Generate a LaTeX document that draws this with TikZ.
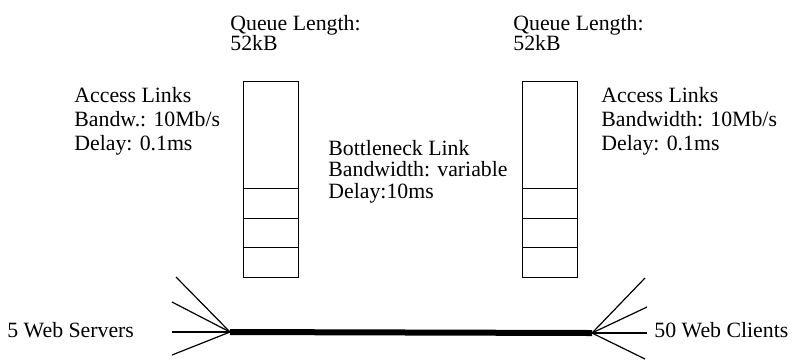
\documentclass[tikz,border=0pt]{standalone}
\usepackage{fontspec}
\setmainfont{Liberation Serif}
\usetikzlibrary{positioning}
\tikzset{
  lbl/.style={font=\fontsize{10.9}{12}\selectfont, align=left, inner sep=0pt, anchor=base west},
  queue/.style={draw, line width=0.5pt, minimum width=27.5pt, minimum height=98pt, inner sep=0pt, anchor=north west},
  link/.style={line width=0.6pt},
  bottleneck/.style={line width=3pt},
}

\begin{document}
\begin{tikzpicture}[x=0.5pt, y=-0.5pt]
  \useasboundingbox (0,0) rectangle (795,361);
  % router queues
  \node[queue] (qleft) at (243,81) {};
  \node[queue] (qright) at (522,81) {};
  \foreach \q in {qleft,qright}
    \foreach \yy in {188,218,247}
      \draw[line width=0.5pt] (\q.west |- 0,\yy) -- (\q.east |- 0,\yy);
  \node[lbl, font=\fontsize{10.9}{10}\selectfont] (qlenleft) at (230,50) {Queue Length:\\52kB};
  \node[lbl, font=\fontsize{10.9}{10}\selectfont] (qlenright) at (513,50) {Queue Length:\\ 52kB};
  % bottleneck link
  \coordinate (srvhub) at (230,332);
  \coordinate (clihub) at (592,333);
  \draw[bottleneck] (srvhub) -- (clihub);
  % access links
  \foreach \n/\p in {a/{176,277},b/{172,302},c/{172,332},d/{172,355}}
    \coordinate (srv\n) at (\p);
  \foreach \n/\p in {a/{645,278},b/{647,307},c/{647,333},d/{645,359}}
    \coordinate (cli\n) at (\p);
  \foreach \n in {a,b,c,d} {
    \draw[link] (srv\n) -- (srvhub);
    \draw[link] (clihub) -- (cli\n);
  }
  % labels
  \node[lbl] (accleft) at (74,150) {Access Links\\Bandw.: 10Mb/s\\Delay: 0.1ms};
  \node[lbl] (accright) at (601,150) {Access Links\\Bandwidth: 10Mb/s\\Delay: 0.1ms};
  \node[lbl, font=\fontsize{10.9}{10.75}\selectfont] (bneck) at (328,198) {Bottleneck Link\\Bandwidth: variable\\Delay:10ms};
  \node[lbl] (servers) at (7,337) {5 Web Servers};
  \node[lbl] (clients) at (654,337) {50 Web Clients};
\end{tikzpicture}
\end{document}
